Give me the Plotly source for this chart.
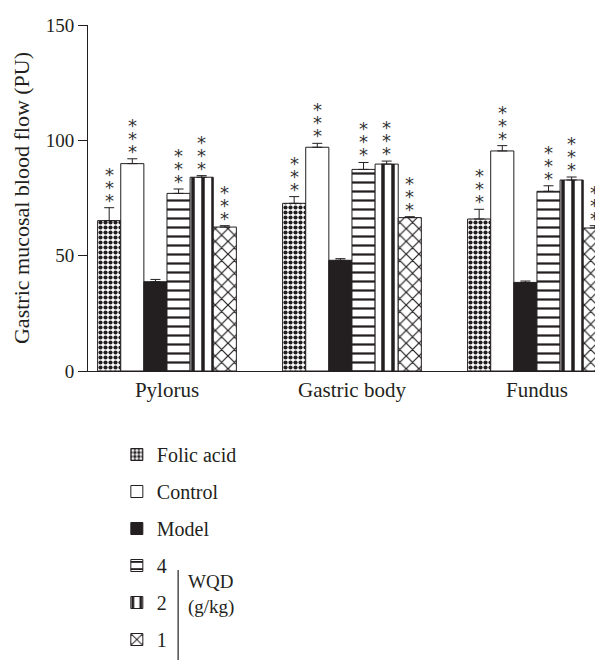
import plotly.graph_objects as go

categories = ["Pylorus", "Gastric body", "Fundus"]
series_names = ["Folic acid", "Control", "Model", "4", "2", "1"]
values = {
    "Folic acid": [65.2, 72.7, 65.9],
    "Control": [89.9, 97.0, 95.4],
    "Model": [38.7, 48.0, 38.4],
    "4": [77.0, 87.4, 77.9],
    "2": [84.0, 89.7, 82.8],
    "1": [62.4, 66.5, 62.0],
}
errors = {
    "Folic acid": [5.6, 2.9, 4.2],
    "Control": [2.1, 1.7, 2.3],
    "Model": [1.0, 0.7, 0.6],
    "4": [1.9, 3.0, 2.4],
    "2": [0.7, 1.3, 1.3],
    "1": [0.6, 0.4, 1.0],
}
significance = {
    "Folic acid": "***",
    "Control": "***",
    "Model": "",
    "4": "***",
    "2": "***",
    "1": "***",
}
y_ticks = [0, 50, 100, 150]

INK = "#231f20"
FONT = "Liberation Serif"

styles = {
    "Folic acid": dict(color="white", pattern=dict(shape=".", size=5, solidity=0.55, fgcolor=INK, bgcolor="white", fillmode="replace")),
    "Control": dict(color="white", pattern=dict(shape="")),
    "Model": dict(color=INK, pattern=dict(shape="")),
    "4": dict(color="white", pattern=dict(shape="-", size=9, solidity=0.25, fgcolor=INK, bgcolor="white", fillmode="replace")),
    "2": dict(color="white", pattern=dict(shape="|", size=10, solidity=0.35, fgcolor=INK, bgcolor="white", fillmode="replace")),
    "1": dict(color="white", pattern=dict(shape="x", size=9, solidity=0.25, fgcolor=INK, bgcolor="white", fillmode="replace")),
}

fig = go.Figure()
for name in series_names:
    st = styles[name]
    fig.add_trace(go.Bar(
        x=categories, y=values[name], name=name, legendgroup=name,
        marker=dict(color=st["color"], pattern=st["pattern"], line=dict(color=INK, width=1)),
        error_y=dict(type="data", array=errors[name], arrayminus=[0] * len(categories),
                     symmetric=False, color=INK, thickness=1, width=5),
    ))

bargap = 0.25
n = len(series_names)
bw = (1 - bargap) / n
annotations = []
for j, name in enumerate(series_names):
    stars = significance[name]
    if not stars:
        continue
    for i in range(len(categories)):
        xc = i - (1 - bargap) / 2 + bw * (j + 0.5)
        top = values[name][i] + errors[name][i]
        for k in range(len(stars)):
            annotations.append(dict(
                x=xc, y=top, xref="x", yref="y", text="*", showarrow=False,
                yanchor="bottom", yshift=-5 + 13 * k,
                font=dict(family="DejaVu Sans", size=18, color="#333333"),
            ))

annotations.append(dict(
    x=0.19, y=-0.646, xref="paper", yref="paper", xanchor="left", yanchor="middle",
    text="WQD<br>(g/kg)", align="left", showarrow=False,
    font=dict(family=FONT, size=19, color=INK),
))

# page has an 8px body margin; figure sized to fit within it
fig.update_layout(
    width=595, height=652,
    margin=dict(l=80, r=0, t=17, b=289, autoexpand=False),
    paper_bgcolor="white", plot_bgcolor="white",
    barmode="group", bargap=bargap, bargroupgap=0,
    font=dict(family=FONT, size=19, color=INK),
    showlegend=True,
    legend=dict(
        x=0.056, y=-0.185, xanchor="left", yanchor="top",
        orientation="v", traceorder="grouped", tracegroupgap=8,
        font=dict(family=FONT, size=20, color=INK),
        itemwidth=30, bgcolor="rgba(0,0,0,0)",
    ),
    annotations=annotations,
    shapes=[dict(type="line", xref="paper", yref="paper",
                 x0=0.175, x1=0.175, y0=-0.575, y1=-0.84,
                 line=dict(color=INK, width=1.2))],
)
fig.update_xaxes(
    range=[-0.427, 2.357], showline=True, linecolor=INK, linewidth=1,
    ticks="", showgrid=False, zeroline=False, automargin=False,
    tickfont=dict(family=FONT, size=21, color=INK),
)
fig.update_yaxes(
    range=[0, 150], tickvals=y_ticks, showline=True, linecolor=INK, linewidth=1,
    ticks="outside", ticklen=9, tickcolor=INK, showgrid=False, zeroline=False, automargin=False,
    tickfont=dict(family=FONT, size=19, color=INK),
    title=dict(text="Gastric mucosal blood flow (PU)", font=dict(family=FONT, size=22, color=INK), standoff=10),
)

fig.write_html("out.html")
